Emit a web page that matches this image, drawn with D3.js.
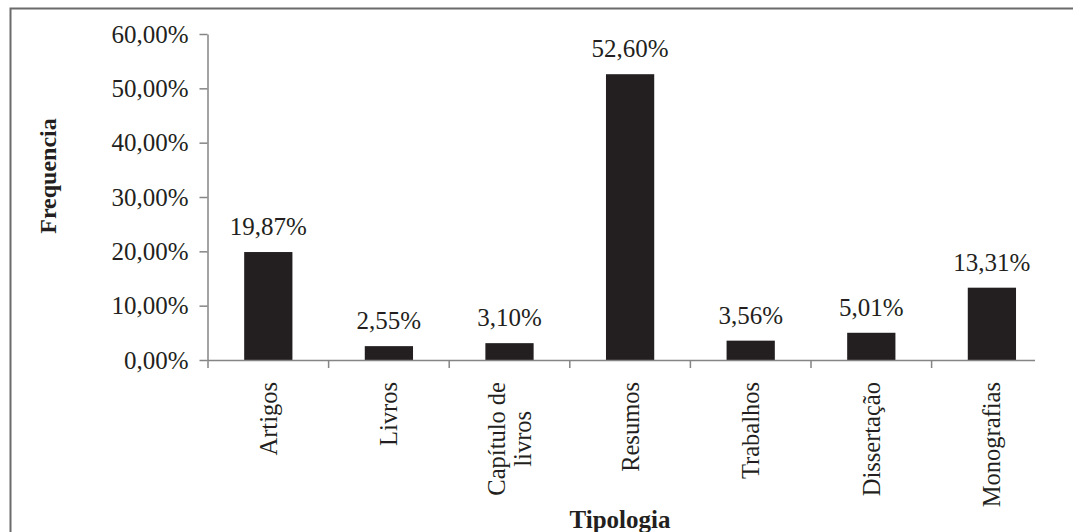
<!DOCTYPE html>
<html>
<head>
<meta charset="utf-8">
<script src="https://cdn.jsdelivr.net/npm/d3@7"></script>
<style>
  html, body { margin: 0; padding: 0; background: #fff; }
  svg { display: block; }
  text { font-family: "Liberation Serif", "Times New Roman", serif; fill: #231f20; }
</style>
</head>
<body>
<svg id="chart" width="1073" height="532"></svg>
<script>
// Document types and their share of the total
const categories = [["Artigos"], ["Livros"], ["Capítulo de", "livros"], ["Resumos"], ["Trabalhos"], ["Dissertação"], ["Monografias"]];
const values = [19.87, 2.55, 3.10, 52.60, 3.56, 5.01, 13.31];
const yTicks = [0, 10, 20, 30, 40, 50, 60];
const xTitle = "Tipologia";
const yTitle = "Frequencia";

const fmt = v => v.toFixed(2).replace(".", ",") + "%";

const svg = d3.select("#chart");
const W = 1073, H = 532;

// Outer frame (runs off the right and bottom edges)
svg.append("rect")
  .attr("x", 10.5).attr("y", 8.5)
  .attr("width", W + 20).attr("height", H + 20)
  .attr("fill", "none").attr("stroke", "#6b6b6b").attr("stroke-width", 2);

const plot = { left: 207.5, right: 1035, top: 34, bottom: 360 };
const keys = categories.map(c => c.join(" "));

const x = d3.scaleBand()
  .domain(keys)
  .range([208, 208 + 7 * 120.6])
  .paddingInner(0.6)
  .paddingOuter(0.3);

const y = d3.scaleLinear().domain([0, 60]).range([plot.bottom, plot.top]);

const axisColor = "#858585";

// Y axis
const yAxis = svg.append("g")
  .attr("transform", `translate(${plot.left},0)`)
  .call(d3.axisLeft(y).tickValues(yTicks).tickFormat(fmt).tickSize(8).tickSizeOuter(0).tickPadding(11));
yAxis.select(".domain").attr("stroke", axisColor).attr("stroke-width", 1.5);
yAxis.selectAll(".tick line").attr("stroke", axisColor).attr("stroke-width", 1.5);
yAxis.selectAll(".tick text")
  .style("font-family", "'Liberation Serif', 'Times New Roman', serif")
  .style("font-size", "25px").attr("fill", "#231f20");

// Bars
svg.append("g").selectAll("rect")
  .data(values)
  .join("rect")
  .attr("x", (d, i) => x(keys[i]))
  .attr("y", d => y(d))
  .attr("width", x.bandwidth())
  .attr("height", d => y(0) - y(d))
  .attr("fill", "#231f20");

// X axis line with ticks at category boundaries
const step = x.step();
const x0 = x.range()[0];
svg.append("line")
  .attr("x1", x0).attr("x2", plot.right)
  .attr("y1", plot.bottom + 0.5).attr("y2", plot.bottom + 0.5)
  .attr("stroke", axisColor).attr("stroke-width", 1.5);
svg.append("g").selectAll("line")
  .data(keys)
  .join("line")
  .attr("x1", (d, i) => x0 + i * step).attr("x2", (d, i) => x0 + i * step)
  .attr("y1", plot.bottom).attr("y2", plot.bottom + 8)
  .attr("stroke", axisColor).attr("stroke-width", 1.5);

// Value labels above bars
svg.append("g").selectAll("text")
  .data(values)
  .join("text")
  .attr("x", (d, i) => x(keys[i]) + x.bandwidth() / 2)
  .attr("y", d => y(d) - 17)
  .attr("text-anchor", "middle")
  .style("font-size", "25px")
  .text(fmt);

// Category labels, rotated
const catG = svg.append("g").selectAll("g")
  .data(categories)
  .join("g")
  .attr("transform", (d, i) => `translate(${x(keys[i]) + x.bandwidth() / 2},382) rotate(-90)`);

catG.each(function(lines) {
  const g = d3.select(this);
  const n = lines.length;
  const first = g.append("text")
    .attr("x", 0)
    .attr("y", (0 - (n - 1) / 2) * 26)
    .attr("dy", "0.35em")
    .attr("text-anchor", "end")
    .style("font-size", "24.5px")
    .text(lines[0]);
  const len = first.node().getComputedTextLength();
  for (let k = 1; k < n; k++) {
    g.append("text")
      .attr("x", -len / 2)
      .attr("y", (k - (n - 1) / 2) * 26)
      .attr("dy", "0.35em")
      .attr("text-anchor", "middle")
      .style("font-size", "24.5px")
      .text(lines[k]);
  }
});

// Axis titles
svg.append("text")
  .attr("x", 620).attr("y", 528)
  .attr("text-anchor", "middle")
  .style("font-size", "25px").style("font-weight", "bold")
  .text(xTitle);

svg.append("text")
  .attr("transform", "translate(56,176) rotate(-90)")
  .attr("text-anchor", "middle")
  .style("font-size", "24px").style("font-weight", "bold")
  .text(yTitle);
</script>
</body>
</html>
